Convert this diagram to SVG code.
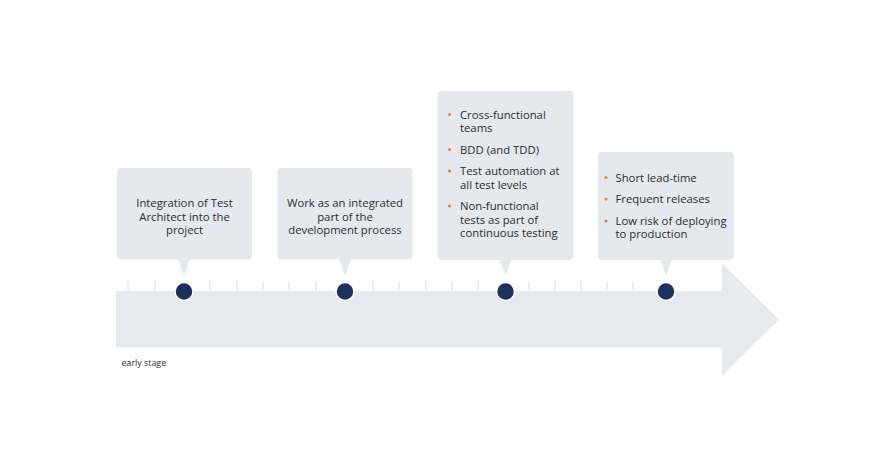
<svg xmlns="http://www.w3.org/2000/svg" width="885" height="463" viewBox="0 0 885 463">
  <defs>
    <style>
      .box { fill: #e5e8ec; }
      .txt { font-family: "Open Sans", "Liberation Sans", sans-serif; font-size: 11.3px; fill: #2b2d30; }
      .ctr { text-anchor: middle; }
      .bul { fill: #f07d2f; }
      .tick { stroke: #d9dde2; stroke-width: 1; }
      .dot { fill: #1a335e; stroke: #ffffff; stroke-width: 1.5; }
      .small { font-family: "Open Sans", "Liberation Sans", sans-serif; font-size: 8.9px; fill: #2b2d30; }
    </style>
  </defs>
  <rect width="885" height="463" fill="#ffffff"/>

  <g id="timeline-arrow">
    <path d="M116 291 H722 V263 L779 319.5 L722 376 V347.5 H116 Z" fill="#e6e9ed"/>
  </g>

  <g id="connectors">
    <g class="tick">
      <line x1="128" y1="281" x2="128" y2="291"/>
      <line x1="155" y1="281" x2="155" y2="291"/>
      <line x1="210" y1="281" x2="210" y2="291"/>
      <line x1="237" y1="281" x2="237" y2="291"/>
      <line x1="263" y1="281" x2="263" y2="291"/>
      <line x1="289" y1="281" x2="289" y2="291"/>
      <line x1="316" y1="281" x2="316" y2="291"/>
      <line x1="373" y1="281" x2="373" y2="291"/>
      <line x1="399" y1="281" x2="399" y2="291"/>
      <line x1="426" y1="281" x2="426" y2="291"/>
      <line x1="452" y1="281" x2="452" y2="291"/>
      <line x1="478" y1="281" x2="478" y2="291"/>
      <line x1="529" y1="281" x2="529" y2="291"/>
      <line x1="555" y1="281" x2="555" y2="291"/>
      <line x1="581" y1="281" x2="581" y2="291"/>
      <line x1="607" y1="281" x2="607" y2="291"/>
      <line x1="633" y1="281" x2="633" y2="291"/>
    </g>
  </g>

  <g id="node-1">
    <rect class="box" x="117" y="168" width="135" height="91.5" rx="4"/>
    <polygon class="box" points="178,259 190,259 184,276"/>
    <text class="txt ctr" x="184.5" y="207">Integration of Test</text>
    <text class="txt ctr" x="184.5" y="220.5">Architect into the</text>
    <text class="txt ctr" x="184.5" y="234">project</text>
    <circle class="dot" cx="184" cy="291.5" r="9"/>
  </g>

  <g id="node-2">
    <rect class="box" x="277.5" y="168" width="135" height="91.5" rx="4"/>
    <polygon class="box" points="339,259 351,259 345,276"/>
    <text class="txt ctr" x="345" y="207">Work as an integrated</text>
    <text class="txt ctr" x="345" y="220.5">part of the</text>
    <text class="txt ctr" x="345" y="234">development process</text>
    <circle class="dot" cx="345" cy="291.5" r="9"/>
  </g>

  <g id="node-3">
    <rect class="box" x="437.5" y="91" width="136" height="169" rx="4"/>
    <polygon class="box" points="499.5,259 511.5,259 505.5,276"/>
    <circle class="bul" cx="449.5" cy="114.5" r="1.5"/>
    <text class="txt" x="460" y="118.5">Cross-functional</text>
    <text class="txt" x="460" y="132">teams</text>
    <circle class="bul" cx="449.5" cy="149.5" r="1.5"/>
    <text class="txt" x="460" y="153.5">BDD (and TDD)</text>
    <circle class="bul" cx="449.5" cy="171" r="1.5"/>
    <text class="txt" x="460" y="175">Test automation at</text>
    <text class="txt" x="460" y="188.5">all test levels</text>
    <circle class="bul" cx="449.5" cy="206" r="1.5"/>
    <text class="txt" x="460" y="210">Non-functional</text>
    <text class="txt" x="460" y="223.5">tests as part of</text>
    <text class="txt" x="460" y="237">continuous testing</text>
    <circle class="dot" cx="505.5" cy="291.5" r="9"/>
  </g>

  <g id="node-4">
    <rect class="box" x="598" y="152" width="136" height="108" rx="4"/>
    <polygon class="box" points="660,259 672,259 666,276"/>
    <circle class="bul" cx="606" cy="177.5" r="1.5"/>
    <text class="txt" x="615.5" y="181.5">Short lead-time</text>
    <circle class="bul" cx="606" cy="199" r="1.5"/>
    <text class="txt" x="615.5" y="203">Frequent releases</text>
    <circle class="bul" cx="606" cy="221" r="1.5"/>
    <text class="txt" x="615.5" y="224.5">Low risk of deploying</text>
    <text class="txt" x="615.5" y="238">to production</text>
    <circle class="dot" cx="666" cy="291.5" r="9"/>
  </g>

  <g id="label-early-stage">
    <text class="small" x="121.5" y="365.5">early stage</text>
  </g>
</svg>
